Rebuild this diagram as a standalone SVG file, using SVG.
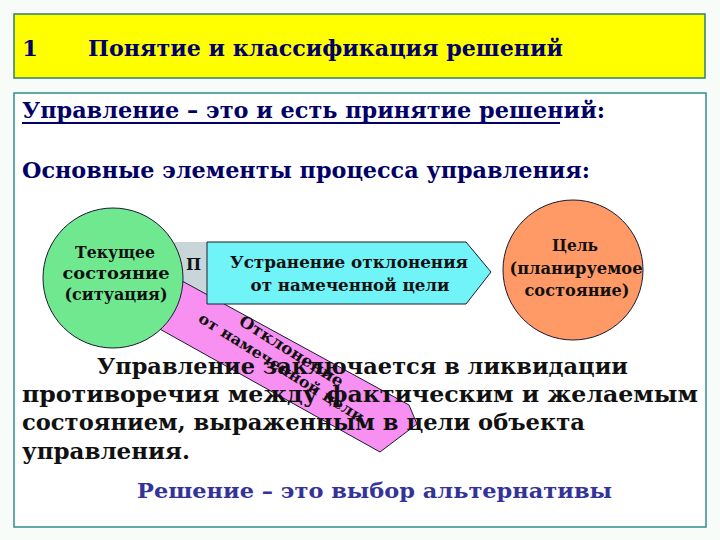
<svg xmlns="http://www.w3.org/2000/svg" width="720" height="540" viewBox="0 0 720 540">
  <style>
    .t { font-family: "DejaVu Serif", "Liberation Serif", serif; font-weight: bold; }
    .navy { fill: #000066; }
    .blk { fill: #111111; }
    .node { stroke: #1a1a33; stroke-width: 1; }
  </style>
  <rect x="0" y="0" width="720" height="540" fill="#f8fcf8"/>
  <g id="title-box">
    <rect x="14" y="14" width="691" height="64" fill="#ffff00" stroke="#2f7f6f" stroke-width="1.5"/>
    <text class="t navy" x="22" y="56" font-size="23">1</text>
    <text class="t navy" x="88" y="56" font-size="23" textLength="475" lengthAdjust="spacingAndGlyphs">Понятие и классификация решений</text>
  </g>
  <g id="main-box">
    <rect x="14" y="93" width="692" height="434" fill="#ffffff" stroke="#2f8f8f" stroke-width="1.5"/>
    <text class="t navy" x="22" y="118" font-size="22" textLength="583" lengthAdjust="spacingAndGlyphs">Управление – это и есть принятие решений:</text>
    <line x1="22" y1="123" x2="560" y2="123" stroke="#000066" stroke-width="2"/>
    <text class="t navy" x="22" y="178" font-size="22" textLength="568" lengthAdjust="spacingAndGlyphs">Основные элементы процесса управления:</text>
  </g>
  <g id="connectors">
    <g id="gray-arrow">
      <rect x="150" y="242" width="120" height="58" fill="#c8d6da"/>
      <text class="t blk" x="186" y="270" font-size="16">П</text>
    </g>
    <g id="pink-arrow">
      <polygon class="node" points="140,258 409,405 417,424 380,452 140,318" fill="#f790f0"/>
      <g transform="translate(286,360) rotate(32)">
        <text class="t blk" x="0" y="-5" font-size="16" text-anchor="middle" textLength="120" lengthAdjust="spacingAndGlyphs">Отклонение</text>
        <text class="t blk" x="0" y="14" font-size="15" text-anchor="middle" textLength="192" lengthAdjust="spacingAndGlyphs">от намеченной цели</text>
      </g>
    </g>
  </g>
  <g id="node-current">
    <circle class="node" cx="113" cy="278" r="70" fill="#70e890"/>
    <text class="t blk" x="115" y="258" font-size="16" text-anchor="middle" textLength="80" lengthAdjust="spacingAndGlyphs">Текущее</text>
    <text class="t blk" x="116" y="279" font-size="16" text-anchor="middle" textLength="107" lengthAdjust="spacingAndGlyphs">состояние</text>
    <text class="t blk" x="116" y="300" font-size="16" text-anchor="middle" textLength="103" lengthAdjust="spacingAndGlyphs">(ситуация)</text>
  </g>
  <g id="node-elimination">
    <polygon class="node" points="207,242 466,242 491,272 466,304 207,304" fill="#70f4f8"/>
    <text class="t blk" x="349" y="268" font-size="16" text-anchor="middle" textLength="238" lengthAdjust="spacingAndGlyphs">Устранение отклонения</text>
    <text class="t blk" x="350" y="291" font-size="16" text-anchor="middle" textLength="199" lengthAdjust="spacingAndGlyphs">от намеченной цели</text>
  </g>
  <g id="node-goal">
    <circle class="node" cx="573" cy="270" r="70" fill="#ff9966"/>
    <text class="t blk" x="575" y="251" font-size="16" text-anchor="middle" textLength="46" lengthAdjust="spacingAndGlyphs">Цель</text>
    <text class="t blk" x="576" y="274" font-size="16" text-anchor="middle" textLength="133" lengthAdjust="spacingAndGlyphs">(планируемое</text>
    <text class="t blk" x="577" y="296" font-size="16" text-anchor="middle" textLength="105" lengthAdjust="spacingAndGlyphs">состояние)</text>
  </g>
  <g id="body-text">
    <text class="t blk" x="97" y="374" font-size="22" textLength="531" lengthAdjust="spacingAndGlyphs">Управление заключается в ликвидации</text>
    <text class="t blk" x="22" y="402" font-size="22" textLength="676" lengthAdjust="spacingAndGlyphs">противоречия между фактическим и желаемым</text>
    <text class="t blk" x="22" y="430" font-size="22" textLength="563" lengthAdjust="spacingAndGlyphs">состоянием, выраженным в цели объекта</text>
    <text class="t blk" x="22" y="459" font-size="22" textLength="168" lengthAdjust="spacingAndGlyphs">управления.</text>
    <text class="t" x="137" y="498" font-size="21" fill="#333399" textLength="475" lengthAdjust="spacingAndGlyphs">Решение – это выбор альтернативы</text>
  </g>
</svg>
